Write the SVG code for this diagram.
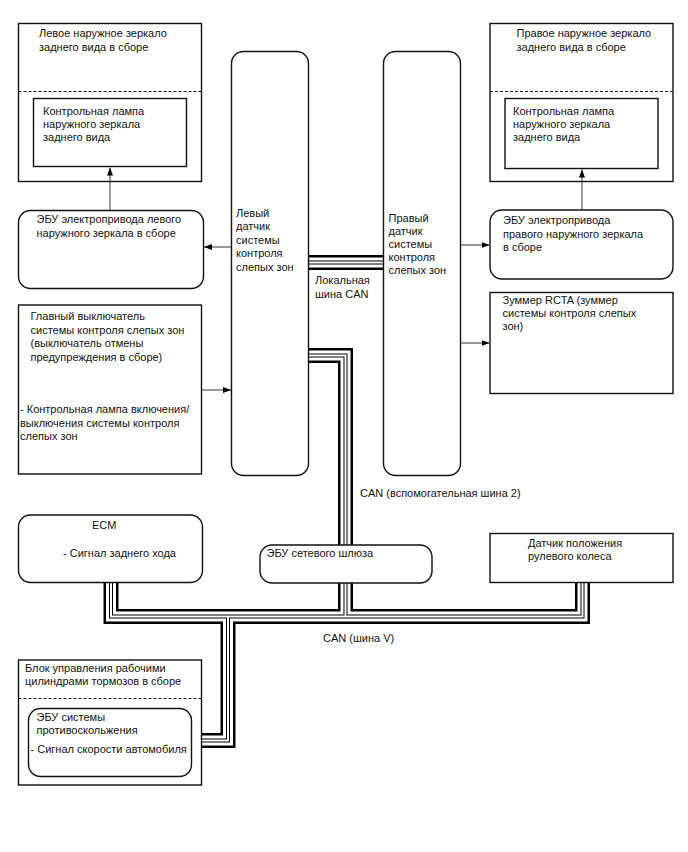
<svg xmlns="http://www.w3.org/2000/svg" width="688" height="852" viewBox="0 0 688 852">
<style>
text{font-family:"Liberation Sans",Arial,sans-serif;font-size:11px;fill:#111}
.box{fill:#fff;stroke:#111;stroke-width:1.4}
.dash{stroke:#111;stroke-width:1;stroke-dasharray:3 2;fill:none}
.arr{stroke:#333;stroke-width:1;fill:none;marker-end:url(#ah)}
.b1{fill:none;stroke:#000;stroke-width:15}
.b2{fill:none;stroke:#fff;stroke-width:10}
.b3{fill:none;stroke:#000;stroke-width:4}
.b4{fill:none;stroke:#fff;stroke-width:2}
</style>
<defs>
<marker id="ah" markerWidth="8" markerHeight="6" refX="8" refY="3" orient="auto" markerUnits="userSpaceOnUse">
<path d="M0,0 L8,3 L0,6 Z" fill="#000"/>
</marker>
</defs>
<rect width="688" height="852" fill="#fff"/>
<g id="can-buses">
<path class="b1" d="M305 262.5H387M305 355.5H345.5V616.5M111 580V616.5H582.5V580M228 616.5V740.5H189"/>
<path class="b2" d="M305 262.5H387M305 355.5H345.5V616.5M111 580V616.5H582.5V580M228 616.5V740.5H189"/>
<path class="b3" d="M305 262.5H387M305 355.5H345.5V616.5M111 580V616.5H582.5V580M228 616.5V740.5H189"/>
<path class="b4" d="M305 262.5H387M305 355.5H345.5V616.5M111 580V616.5H582.5V580M228 616.5V740.5H189"/>
<text x="315" y="284">Локальная</text>
<text x="315" y="298">шина CAN</text>
<text x="360" y="497">CAN (вспомогательная шина 2)</text>
<text x="323" y="642">CAN (шина V)</text>
</g>
<g id="left-mirror">
<rect class="box" x="18.5" y="23.5" width="183" height="158"/>
<line class="dash" x1="18.5" y1="91.5" x2="201.5" y2="91.5"/>
<text x="39" y="37">Левое наружное зеркало</text>
<text x="39" y="50.5">заднего вида в сборе</text>
</g>
<g id="left-lamp">
<rect class="box" x="33.5" y="98.5" width="153" height="68"/>
<text x="43" y="114.5">Контрольная лампа</text>
<text x="43" y="127.5">наружного зеркала</text>
<text x="43" y="140.5">заднего вида</text>
</g>
<g id="right-mirror">
<rect class="box" x="490" y="23.5" width="183" height="158"/>
<line class="dash" x1="490" y1="91.5" x2="673" y2="91.5"/>
<text x="516.5" y="37">Правое наружное зеркало</text>
<text x="516.5" y="50.5">заднего вида в сборе</text>
</g>
<g id="right-lamp">
<rect class="box" x="505" y="98.5" width="153" height="70"/>
<text x="513" y="114.5">Контрольная лампа</text>
<text x="513" y="127.5">наружного зеркала</text>
<text x="513" y="140.5">заднего вида</text>
</g>
<g id="left-ecu">
<rect class="box" x="18.5" y="210.5" width="185" height="78" rx="12"/>
<text x="36.5" y="223">ЭБУ электропривода левого</text>
<text x="36.5" y="236.5">наружного зеркала в сборе</text>
</g>
<g id="left-sensor">
<rect class="box" x="231.5" y="51.5" width="77" height="424" rx="12"/>
<text x="236" y="216.5">Левый</text>
<text x="236" y="230">датчик</text>
<text x="236" y="243.5">системы</text>
<text x="236" y="257">контроля</text>
<text x="236" y="270.5">слепых зон</text>
</g>
<g id="right-sensor">
<rect class="box" x="383.5" y="51.5" width="77" height="424" rx="12"/>
<text x="388.5" y="221.5">Правый</text>
<text x="388.5" y="234.5">датчик</text>
<text x="388.5" y="247.5">системы</text>
<text x="388.5" y="260.5">контроля</text>
<text x="388.5" y="273.5">слепых зон</text>
</g>
<g id="right-ecu">
<rect class="box" x="490" y="210" width="183" height="69" rx="12"/>
<text x="503" y="224">ЭБУ электропривода</text>
<text x="503" y="237.5">правого наружного зеркала</text>
<text x="503" y="251">в сборе</text>
</g>
<g id="buzzer">
<rect class="box" x="490" y="292.5" width="183" height="101"/>
<text x="502.5" y="304">Зуммер RCTA (зуммер</text>
<text x="502.5" y="317">системы контроля слепых</text>
<text x="502.5" y="330">зон)</text>
</g>
<g id="main-switch">
<rect class="box" x="18.5" y="305" width="183" height="169"/>
<text x="30.5" y="320">Главный выключатель</text>
<text x="30.5" y="333.5">системы контроля слепых зон</text>
<text x="30.5" y="347">(выключатель отмены</text>
<text x="30.5" y="360.5">предупреждения в сборе)</text>
<text x="20" y="413">- Контрольная лампа включения/</text>
<text x="20" y="426.5">выключения системы контроля</text>
<text x="20" y="440">слепых зон</text>
</g>
<g id="ecm">
<rect class="box" x="18.5" y="515" width="184" height="67.5" rx="12"/>
<text x="92" y="529">ECM</text>
<text x="63" y="557">- Сигнал заднего хода</text>
</g>
<g id="gateway">
<rect class="box" x="260" y="545" width="172" height="38" rx="12"/>
<text x="266.5" y="557">ЭБУ сетевого шлюза</text>
</g>
<g id="steering-sensor">
<rect class="box" x="490" y="533.5" width="183" height="49"/>
<text x="528" y="546.5">Датчик положения</text>
<text x="528" y="560">рулевого колеса</text>
</g>
<g id="brake-unit">
<rect class="box" x="18.5" y="660" width="183" height="125"/>
<line class="dash" x1="18.5" y1="698.5" x2="201.5" y2="698.5"/>
<text x="25" y="671.5">Блок управления рабочими</text>
<text x="25" y="685">цилиндрами тормозов в сборе</text>
</g>
<g id="skid-ecu">
<rect class="box" x="28.5" y="708.5" width="163" height="68" rx="12"/>
<text x="36.5" y="721">ЭБУ системы</text>
<text x="36.5" y="734">противоскольжения</text>
<text x="30.5" y="753">- Сигнал скорости автомобиля</text>
</g>
<g id="connectors">
<path class="arr" d="M110 210.5V167.5"/>
<path class="arr" d="M582 210V169.5"/>
<path class="arr" d="M231.5 247H204"/>
<path class="arr" d="M460 245H489.5"/>
<path class="arr" d="M460 343H489.5"/>
<path class="arr" d="M202 390H231"/>
</g>
</svg>
